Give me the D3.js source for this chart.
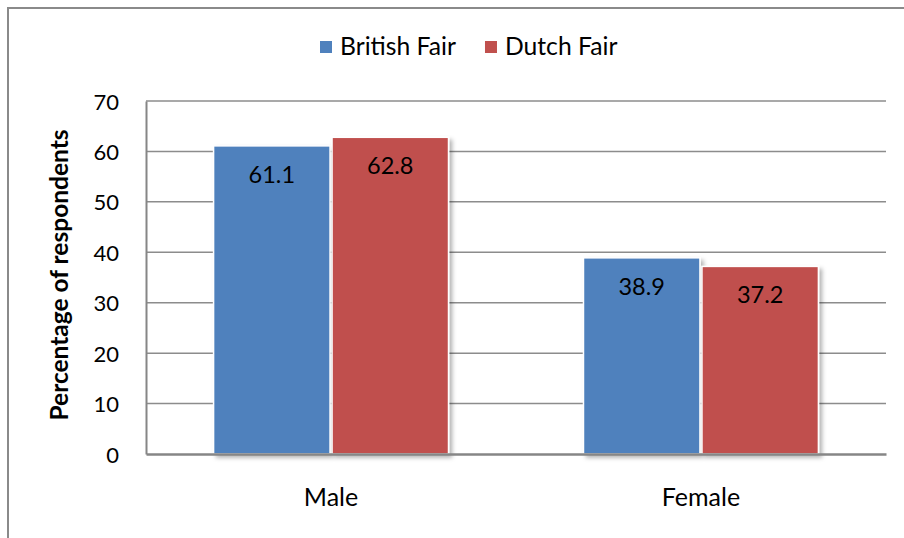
<!DOCTYPE html>
<html>
<head>
<meta charset="utf-8">
<script src="https://cdn.jsdelivr.net/npm/d3@7"></script>
<style>
  html, body { margin: 0; padding: 0; background: #fff; }
  svg { display: block; }
  text { font-family: Lato, "Liberation Sans", sans-serif; fill: #000; }
</style>
</head>
<body>
<svg id="chart" width="904" height="538"></svg>
<script>
const categories = ["Male", "Female"];
const seriesNames = ["British Fair", "Dutch Fair"];
const britishFair = [61.1, 38.9];
const dutchFair = [62.8, 37.2];
const yTicks = [0, 10, 20, 30, 40, 50, 60, 70];
const colors = ["#4F81BD", "#C0504D"];

const seriesValues = [britishFair, dutchFair];
const data = categories.map((c, i) => ({
  category: c,
  values: seriesNames.map((s, j) => ({ series: s, value: seriesValues[j][i], color: colors[j] }))
}));

const svg = d3.select("#chart");
const W = 904, H = 538;
const plot = { left: 146, right: 886, top: 101, bottom: 454 };

// defs: shadow
const defs = svg.append("defs");
const f = defs.append("filter").attr("id", "shadow").attr("x", "-10%").attr("y", "-10%").attr("width", "130%").attr("height", "130%");
f.append("feDropShadow").attr("dx", 3).attr("dy", 3).attr("stdDeviation", 2).attr("flood-color", "#000").attr("flood-opacity", 0.3);

// outer border
svg.append("rect")
  .attr("x", 8).attr("y", 8).attr("width", W + 20).attr("height", H + 20)
  .attr("fill", "none").attr("stroke", "#8a8a8a").attr("stroke-width", 2);

const y = d3.scaleLinear().domain([0, 70]).range([plot.bottom, plot.top]);
const x0 = d3.scaleBand().domain(categories).range([plot.left, plot.right])
  .paddingInner(0.3595).paddingOuter(0.18);
const x1 = d3.scaleBand().domain(seriesNames).range([0, x0.bandwidth()]).padding(0);

// gridlines
svg.append("g").selectAll("line").data(yTicks.filter(t => t > 0)).join("line")
  .attr("x1", plot.left).attr("x2", plot.right)
  .attr("y1", d => y(d)).attr("y2", d => y(d))
  .attr("stroke", "#8c8c8c").attr("stroke-width", 1.5);

// y axis
const yAxis = d3.axisLeft(y).tickValues(yTicks).tickSize(0).tickPadding(27);
const gy = svg.append("g").attr("transform", `translate(${plot.left},0)`).call(yAxis);
gy.select(".domain").attr("stroke", "#868686").attr("stroke-width", 2);
gy.selectAll("text").attr("font-size", 22).attr("font-family", "Lato").attr("fill", "#000").attr("dy", "0.37em");

// bars
const groups = svg.append("g").selectAll("g").data(data).join("g")
  .attr("transform", d => `translate(${x0(d.category)},0)`);

groups.selectAll("rect").data(d => d.values).join("rect")
  .attr("x", d => x1(d.series) + 1)
  .attr("width", x1.bandwidth() - 2)
  .attr("y", d => y(d.value))
  .attr("height", d => y(0) - y(d.value))
  .attr("fill", d => d.color)
  .attr("stroke", "#fff").attr("stroke-width", 1.5)
  .attr("filter", "url(#shadow)");

groups.selectAll("text").data(d => d.values).join("text")
  .attr("x", d => x1(d.series) + x1.bandwidth() / 2)
  .attr("y", d => y(d.value) + 37)
  .attr("text-anchor", "middle")
  .attr("font-size", 23.5)
  .text(d => d.value.toFixed(1));

// x axis
const xAxis = d3.axisBottom(x0).tickSize(0).tickPadding(34);
const gx = svg.append("g").attr("transform", `translate(0,${plot.bottom})`).call(xAxis);
gx.select(".domain").attr("stroke", "#868686").attr("stroke-width", 2.5);
gx.selectAll("text").attr("font-size", 25).attr("font-family", "Lato").attr("fill", "#000");

// y title
svg.append("text")
  .attr("transform", `translate(68,275) rotate(-90)`)
  .attr("text-anchor", "middle")
  .attr("font-size", 24.5).attr("font-weight", "bold")
  .text("Percentage of respondents");

// legend
const legend = svg.append("g");
let lx = 320;
seriesNames.forEach((s, i) => {
  legend.append("rect").attr("x", lx).attr("y", 41).attr("width", 12).attr("height", 12).attr("fill", colors[i]);
  const t = legend.append("text").attr("x", lx + 20).attr("y", 55).attr("font-size", 24.7).text(s);
  lx += 20 + t.node().getComputedTextLength() + 29;
});
</script>
</body>
</html>
